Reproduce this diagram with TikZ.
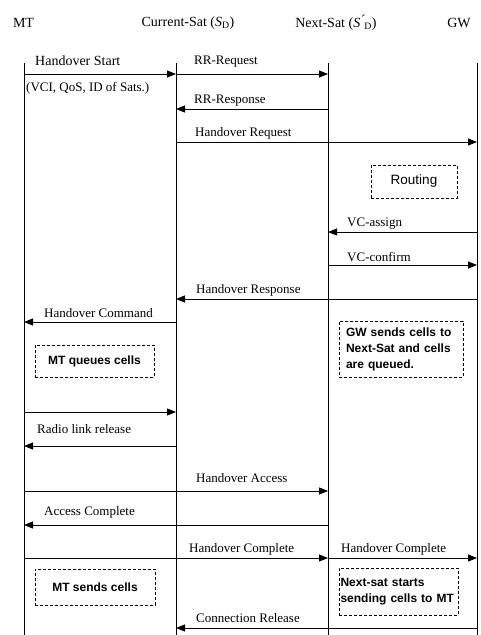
\documentclass[tikz,border=0pt]{standalone}
\usepackage{fontspec}
\setmainfont{Liberation Serif}
\setsansfont{Liberation Sans}
\usepackage{tikz}
\usetikzlibrary{arrows.meta, positioning, calc}

\begin{document}
\begin{tikzpicture}[x=1pt, y=-1pt,
  life/.style={line width=1pt},
  msg/.style={line width=0.9pt, -{Triangle[length=9pt, width=7pt]}},
  head/.style={font=\fontsize{14}{16}\selectfont, inner sep=0pt},
  lbl/.style={font=\fontsize{13}{15}\selectfont, inner sep=0pt, anchor=west},
  note/.style={draw, line width=0.9pt, dash pattern=on 3pt off 2pt,
    font=\fontsize{12}{16}\selectfont\sffamily\bfseries, align=left, inner sep=0pt}]
\useasboundingbox (0,0) rectangle (480,635);

% headers
\node[head] (mt) at (23.5,23) {MT};
\node[head] (cs) at (188,23) {Current-Sat (\textit{S}\textsubscript{D})};
\node[head] (ns) at (336,23) {Next-Sat (\textit{S}\kern1pt\raisebox{-0.5pt}{\textit{\'{}}}\kern-0.5pt\textsubscript{D})};
\node[head] (gw) at (459,23) {GW};

% lifelines
\coordinate (mtL) at (24,63);
\coordinate (csL) at (176,63);
\coordinate (nsL) at (328,63);
\coordinate (gwL) at (477,63);
\coordinate (bot) at (0,635);
\foreach \l in {mtL, csL, nsL, gwL}
  \draw[life] (\l) -- (\l |- bot);

% message levels
\coordinate (m1) at (0,74);
\coordinate (m2) at (0,109);
\coordinate (m3) at (0,142);
\coordinate (m4) at (0,232);
\coordinate (m5) at (0,265);
\coordinate (m6) at (0,299);
\coordinate (m7) at (0,322);
\coordinate (m8) at (0,412);
\coordinate (m9) at (0,446);
\coordinate (m10) at (0,491);
\coordinate (m11) at (0,525);
\coordinate (m12) at (0,558);
\coordinate (m13) at (0,628);

% handover request phase
\draw[msg] (mtL |- m1) -- (csL |- m1);
\draw[msg] (csL |- m1) -- (nsL |- m1);
\draw[msg] (nsL |- m2) -- (csL |- m2);
\draw[msg] (csL |- m3) -- (gwL |- m3);
\node[lbl, font=\fontsize{14}{16}\selectfont] (tStart) at (35,61) {Handover Start};
\node[lbl, font=\fontsize{13}{15}\selectfont] (tVci) at (26,88) {(VCI, QoS, ID of Sats.)};
\node[lbl] (tRRreq) at (194,62) {RR-Request};
\node[lbl] (tRRresp) at (194,101) {RR-Response};
\node[lbl] (tHoReq) at (195,133) {Handover Request};

% routing at GW
\node[note, font=\fontsize{13.5}{16}\selectfont\sffamily, minimum width=86pt, minimum height=33pt]
  (routing) at (414,181.5) {Routing};
\draw[msg] (gwL |- m4) -- (nsL |- m4);
\draw[msg] (nsL |- m5) -- (gwL |- m5);
\draw[msg] (gwL |- m6) -- (csL |- m6);
\draw[msg] (csL |- m7) -- (mtL |- m7);
\node[lbl] (tAssign) at (347,224) {VC-assign};
\node[lbl] (tConfirm) at (347,257) {VC-confirm};
\node[lbl] (tHoResp) at (196,290) {Handover Response};
\node[lbl] (tHoCmd) at (44,313) {Handover Command};

% queueing
\node[note, minimum width=119pt, minimum height=32pt, align=center] (mtQueue) at (94.5,361) {MT queues cells};
\node[note, minimum width=124pt, minimum height=56pt, text width=110pt] (gwQueue) at (401,349)
  {GW sends cells to\\Next-Sat and cells\\are queued.};

% radio link
\draw[msg] (mtL |- m8) -- (csL |- m8);
\draw[msg] (csL |- m9) -- (mtL |- m9);
\node[lbl] (tRadio) at (37,429) {Radio link release};

% access
\draw[msg] (mtL |- m10) -- (nsL |- m10);
\draw[msg] (nsL |- m11) -- (mtL |- m11);
\node[lbl] (tAccess) at (196,478) {Handover Access};
\node[lbl] (tAccDone) at (44,512) {Access Complete};

% completion
\draw[msg] (mtL |- m12) -- (nsL |- m12);
\draw[msg] (nsL |- m12) -- (gwL |- m12);
\node[lbl] (tHoDone1) at (189,549) {Handover Complete};
\node[lbl] (tHoDone2) at (341,549) {Handover Complete};
\node[note, minimum width=120pt, minimum height=36pt, align=center] (mtSend) at (95,587) {MT sends cells};
\node[note, minimum width=119pt, minimum height=47pt, text width=116pt] (nsSend) at (398.5,591.5)
  {Next-sat starts\\sending cells to MT};

% release
\draw[msg] (gwL |- m13) -- (csL |- m13);
\node[lbl] (tRelease) at (196,618) {Connection Release};
\end{tikzpicture}
\end{document}
